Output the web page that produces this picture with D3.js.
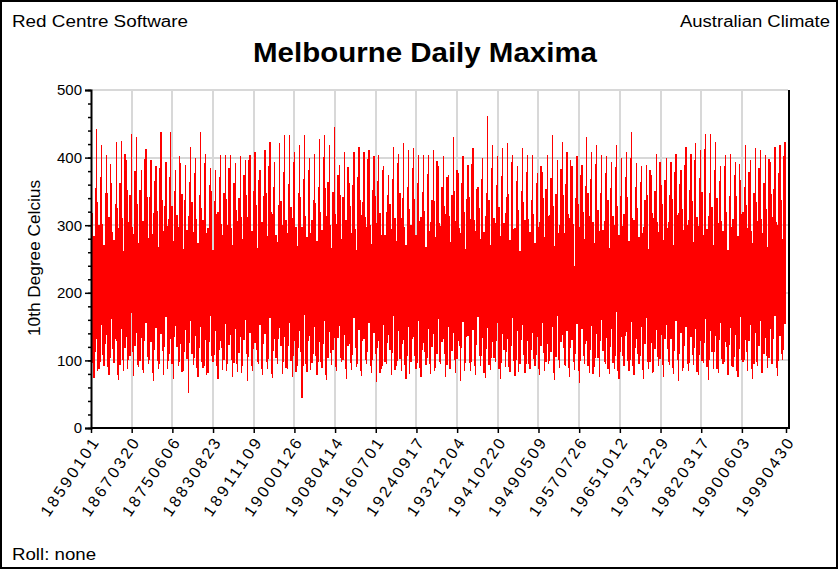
<!DOCTYPE html>
<html><head><meta charset="utf-8">
<script src="https://cdn.jsdelivr.net/npm/d3@7/dist/d3.min.js"></script>
<style>
body{margin:0;background:#fff}
svg{display:block}
text{font-family:Arial,"Liberation Sans",sans-serif;fill:#000}
</style>
</head><body>
<svg id="chart" width="838" height="569"></svg>
<script>
// ---------- DATA (10th of a degree Celsius), one entry per year from 1859 ----------
const firstYear = 1859;
const seriesStart = "18590101";
const seriesEnd = "19990430";
// Jan-Mar (summer) highest daily maximum
const summerHigh = [443,443,418,404,362,423,425,396,435,430,382,413,396,387,438,394,438,382,392,389,416,399,
438,406,384,382,404,404,404,392,402,396,404,409,382,411,423,394,421,433,433,409,418,433,399,406,428,
433,418,445,389,409,362,409,416,409,411,402,404,387,374,416,406,421,411,414,404,404,404,411,
387,402,374,430,377,402,389,414,357,399,461,418,402,414,421,404,387,414,404,404,377,379,404,433,
396,423,409,387,402,389,430,409,418,404,402,394,418,399,409,438,392,387,389,374,406,360,399,
394,406,382,416,406,421,411,435,435,423,387,404,406,394,367,418,396,414,411,404,394,416,418,423];
// Jan-Mar lowest daily maximum
const summerLow = [142,131,153,138,161,129,146,135,170,140,133,156,127,148,139,164,132,151,125,145,
158,136,149,130,166,143,128,154,137,147,134,160,141,126,152,139,163,131,148,135,
155,129,144,167,136,150,127,158,142,133,151,138,124,162,145,132,156,140,129,153,
137,165,143,130,149,135,159,126,147,139,161,132,150,141,128,157,136,145,164,133,
148,127,155,139,131,162,144,152,129,140,134,156,125,149,166,137,143,130,154,146,
128,151,139,160,133,147,172,135,142,157,131,149,163,126,145,138,153,132,159,141,
150,134,146,129,161,143,136,155,127,148,138,164,130,152,141,158,133,147,165,136,154];
// Apr-Jun highest / lowest daily maximum
const autumnHigh = [318,335,302,347,290,326,311,352,298,331,306,342,287,321,338,299,328,315,346,293,
334,309,325,288,351,317,302,339,296,323,312,344,291,330,305,348,319,286,336,308,
327,297,341,314,289,333,320,355,301,316,345,307,329,294,337,312,300,343,318,285,
332,310,347,298,324,339,306,321,292,336,303,328,314,350,296,319,342,308,325,290,
338,311,327,303,346,295,322,335,309,317,297,340,313,329,288,344,316,302,331,320,
348,305,323,293,337,314,328,299,341,311,326,289,345,318,304,332,296,339,315,324,
301,336,312,349,294,327,340,306,320,297,343,316,330,291,335,309,324,346,304,338,319];
const autumnLow = [96,84,108,90,117,79,101,88,112,93,86,105,81,99,114,87,95,120,83,102,
110,89,97,78,106,92,118,85,100,94,82,109,91,115,87,98,80,104,121,89,
99,83,113,94,86,107,97,79,111,90,103,88,96,118,84,100,92,109,81,97,
115,86,102,93,80,106,89,112,95,84,98,110,87,101,122,85,96,91,107,82,
93,104,88,116,90,99,83,108,94,102,87,111,95,82,100,119,89,97,85,106,
92,80,103,114,88,96,84,107,99,91,110,86,98,81,105,93,117,89,101,84,
95,108,83,99,90,113,87,102,120,92,85,100,112,88,97,81,106,94,89,109,98];
// Jul-Sep highest / lowest daily maximum
const winterHigh = [284,301,270,312,278,296,262,305,287,273,306,281,318,268,292,309,277,298,265,313,
290,274,307,296,263,320,285,300,271,306,279,312,292,267,304,284,317,275,301,288,
311,269,297,282,308,276,293,314,266,302,280,307,289,264,315,298,272,303,285,319,
294,277,310,270,301,286,312,268,305,283,299,316,275,306,288,265,309,292,279,314,
271,303,284,318,278,296,262,308,290,274,305,283,315,269,300,288,310,240,297,280,
313,273,292,306,267,301,285,316,276,308,282,298,265,311,290,278,304,271,318,293,
307,275,299,286,314,270,303,291,263,309,284,320,296,274,306,289,268,312,301,280];
const winterLow = [74,88,92,79,96,71,85,100,77,90,82,95,69,87,78,99,73,91,84,52,
93,76,89,81,97,72,86,94,75,83,91,70,84,98,79,88,74,95,80,87,
76,92,45,83,96,78,89,71,93,85,97,73,86,90,77,94,81,68,88,95,
79,91,84,72,98,87,76,93,80,89,94,75,88,82,70,96,85,79,92,74,
86,97,73,90,83,77,95,81,88,92,78,84,99,71,89,93,76,86,67,94,
82,90,75,97,80,88,73,92,85,78,95,72,87,83,91,76,98,80,69,89,
84,93,78,96,71,87,82,94,79,90,76,98,85,73,92,81,89,95,77,101];
// Oct-Dec highest / lowest daily maximum
const springHigh = [355,372,348,390,331,362,405,344,380,352,398,341,366,384,329,372,351,402,338,364,
377,345,392,359,336,371,348,385,362,340,374,396,351,367,343,388,356,330,378,361,
393,347,369,382,338,356,401,364,349,375,342,386,359,371,335,398,352,366,381,345,
368,392,340,357,384,363,349,376,338,395,356,372,345,381,362,339,390,354,368,347,
385,359,373,341,394,366,350,379,337,362,388,353,370,346,383,361,397,340,375,358,
369,391,348,377,355,386,343,372,399,357,364,338,382,350,394,367,345,378,361,389,
352,396,370,412,347,381,365,388,343,374,391,356,379,348,385,362,398,353,377,402];
const springLow = [112,98,125,104,131,93,118,107,122,99,128,101,115,95,120,109,134,97,113,126,
103,119,92,127,108,116,100,123,96,111,130,105,117,94,124,102,114,132,98,121,
106,119,91,128,110,97,125,103,116,133,100,122,108,95,129,113,101,118,92,126,
111,99,124,107,131,96,115,104,120,109,127,93,114,102,119,135,98,123,106,117,
104,128,96,112,121,101,130,94,116,108,122,97,113,105,127,92,118,110,99,125,
115,103,129,95,120,107,112,136,100,118,106,124,98,117,102,131,93,114,109,121,
96,119,108,126,101,113,130,97,123,105,117,100,128,94,121,110,104,132,99,115];

const yTickValues = [0,100,200,300,400,500];
const xTickLabels = ["18590101","18670320","18750606","18830823","18911109","19000126","19080414",
"19160701","19240917","19321204","19410220","19490509","19570726","19651012","19731229",
"19820317","19900603","19990430"];

// ---------- LAYOUT ----------
const W = 838, H = 569;
const plot = {left: 91, right: 788, top: 90, bottom: 428};
const svg = d3.select("#chart");
const parse = d3.timeParse("%Y%m%d");
const t0 = parse(seriesStart), t1 = parse(seriesEnd);

const x = d3.scaleTime().domain([t0, t1]).range([plot.left, 786]);
const y = d3.scaleLinear().domain([0, 500]).range([plot.bottom, plot.top]);

// background + outer frame
svg.append("rect").attr("x",1).attr("y",1).attr("width",W-2).attr("height",H-2)
  .attr("fill","#fff").attr("stroke","#000").attr("stroke-width",2);

// gridlines
const grid = svg.append("g").attr("shape-rendering","crispEdges");
grid.selectAll("line.h").data(yTickValues.filter(v=>v>0)).join("line")
  .attr("x1",plot.left).attr("x2",plot.right)
  .attr("y1",d=>y(d)).attr("y2",d=>y(d))
  .attr("stroke","#d8d8d8").attr("stroke-width",2);
grid.selectAll("line.v").data(xTickLabels.slice(1,-1).map(parse)).join("line")
  .attr("x1",d=>x(d)).attr("x2",d=>x(d))
  .attr("y1",plot.top).attr("y2",plot.bottom)
  .attr("stroke","#d8d8d8").attr("stroke-width",2);

// quarterly ranges of daily maxima
const quarters = [];
const qHigh = [summerHigh, autumnHigh, winterHigh, springHigh];
const qLow  = [summerLow, autumnLow, winterLow, springLow];
for (let q = 0; q < 4; q++) {
  qHigh[q].forEach((hi, i) => {
    const yr = firstYear + i;
    const s = new Date(yr, q*3, 1);
    let e = new Date(yr, q*3+3, 1);
    if (s >= t1) return;
    if (e > t1) e = t1;
    quarters.push({s, e, hi, lo: qLow[q][i]});
  });
}
svg.append("g").attr("shape-rendering","crispEdges")
  .selectAll("rect").data(quarters).join("rect")
  .attr("x", d => x(d.s))
  .attr("width", d => Math.max(0.6, x(d.e) - x(d.s)))
  .attr("y", d => y(d.hi))
  .attr("height", d => y(d.lo) - y(d.hi))
  .attr("fill", "#ff0000");

// right frame line of the plot
svg.append("line").attr("x1",plot.right+1).attr("x2",plot.right+1)
  .attr("y1",plot.top).attr("y2",plot.bottom)
  .attr("stroke","#000").attr("stroke-width",2).attr("shape-rendering","crispEdges");

// y axis
const yMinor = svg.append("g").attr("transform",`translate(${plot.left},0)`)
  .call(d3.axisLeft(y).tickValues(d3.range(0,501,20)).tickSize(3).tickFormat(""));
yMinor.select(".domain").remove();
const yAx = svg.append("g").attr("transform",`translate(${plot.left},0)`)
  .call(d3.axisLeft(y).tickValues(yTickValues).tickSize(6).tickPadding(3));
yAx.selectAll("text").attr("font-size",15).attr("font-family","Arial, 'Liberation Sans', sans-serif");
svg.selectAll(".domain").attr("stroke-width",2);
svg.selectAll(".tick line").attr("stroke-width",1.5);

// x axis
const xAx = svg.append("g").attr("transform",`translate(0,${plot.bottom})`)
  .call(d3.axisBottom(x).tickValues(xTickLabels.map(parse)).tickSize(5)
        .tickFormat((d,i)=>xTickLabels[i]));
xAx.select(".domain").attr("stroke-width",2).attr("d",`M${plot.left},0H${plot.right+2}`);
xAx.selectAll(".tick line").attr("stroke-width",1.5);
xAx.selectAll("text")
  .attr("font-size",16).attr("font-family","Arial, 'Liberation Sans', sans-serif")
  .attr("text-anchor","end")
  .attr("transform","translate(3,12) rotate(-56)")
  .attr("x",0).attr("y",0).attr("dy","0.35em")
  .attr("textLength",90).attr("lengthAdjust","spacing");

// texts
svg.append("text").attr("x",12).attr("y",27).attr("font-size",16)
  .attr("textLength",176).attr("lengthAdjust","spacingAndGlyphs").text("Red Centre Software");
svg.append("text").attr("x",680).attr("y",27).attr("font-size",16)
  .attr("textLength",150).attr("lengthAdjust","spacingAndGlyphs").text("Australian Climate");
svg.append("text").attr("x",253).attr("y",62).attr("font-size",27).attr("font-weight","bold")
  .attr("textLength",344).attr("lengthAdjust","spacingAndGlyphs").text("Melbourne Daily Maxima");
svg.append("text").attr("transform","translate(40,336) rotate(-90)").attr("font-size",16)
  .attr("textLength",156).attr("lengthAdjust","spacingAndGlyphs").text("10th Degree Celcius");
svg.append("text").attr("x",12).attr("y",560).attr("font-size",16)
  .attr("textLength",84).attr("lengthAdjust","spacingAndGlyphs").text("Roll: none");
</script>
</body></html>
